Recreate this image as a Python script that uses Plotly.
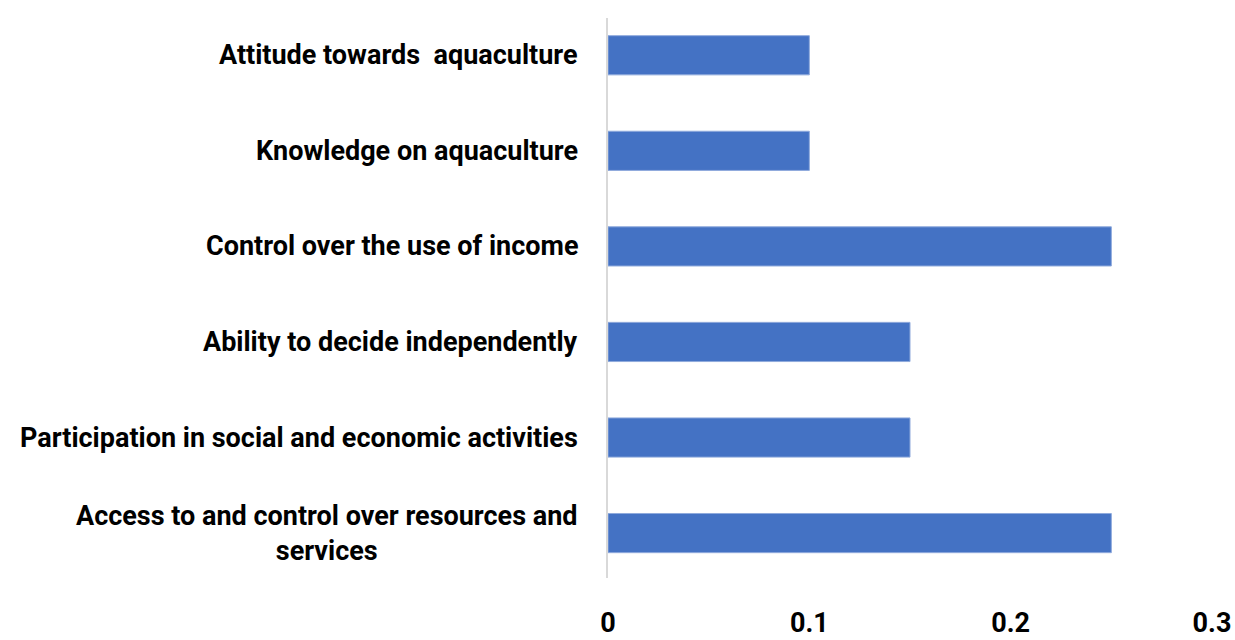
import plotly.graph_objects as go

categories = [
    "Access to and control over resources and<br>services",
    "Participation in social and economic activities",
    "Ability to decide independently",
    "Control over the use of income",
    "Knowledge on aquaculture",
    "Attitude towards  aquaculture",
]
values = [0.25, 0.15, 0.15, 0.25, 0.10, 0.10]
x_ticks = [0, 0.1, 0.2, 0.3]
x_tick_labels = ["0", "0.1", "0.2", "0.3"]

FONT = "Roboto, Liberation Sans, sans-serif"
positions = list(range(len(categories)))

fig = go.Figure(go.Bar(
    x=values,
    y=positions,
    orientation="h",
    width=0.41,
    marker=dict(color="#4472C4", line=dict(color="#8faadc", width=1)),
))

for pos, cat in zip(positions, categories):
    fig.add_annotation(
        x=0, y=pos, xref="x", yref="y", text=cat, showarrow=False,
        xanchor="right", yanchor="middle", align="center", xshift=-28,
        font=dict(family=FONT, size=27, color="black", weight="bold"),
    )

fig.update_layout(
    width=1235, height=640,
    margin=dict(l=608, r=23, t=18, b=62),
    paper_bgcolor="white", plot_bgcolor="white",
    showlegend=False,
    font=dict(family=FONT, size=27, color="black"),
    xaxis=dict(
        range=[0, 0.3], tickvals=x_ticks, ticktext=x_tick_labels,
        showgrid=False, zeroline=False, showline=False, ticks="",
        ticklabelstandoff=26, automargin=False,
        tickfont=dict(family=FONT, size=27, color="black", weight="bold"),
    ),
    yaxis=dict(
        range=[-0.47, 5.39], showticklabels=False,
        showgrid=False, zeroline=False, showline=True, linecolor="#d9d9d9", linewidth=2,
        ticks="", automargin=False,
    ),
)

fig.write_html("out.html", config={"displayModeBar": False},
               post_script="document.body.style.margin='0';")
